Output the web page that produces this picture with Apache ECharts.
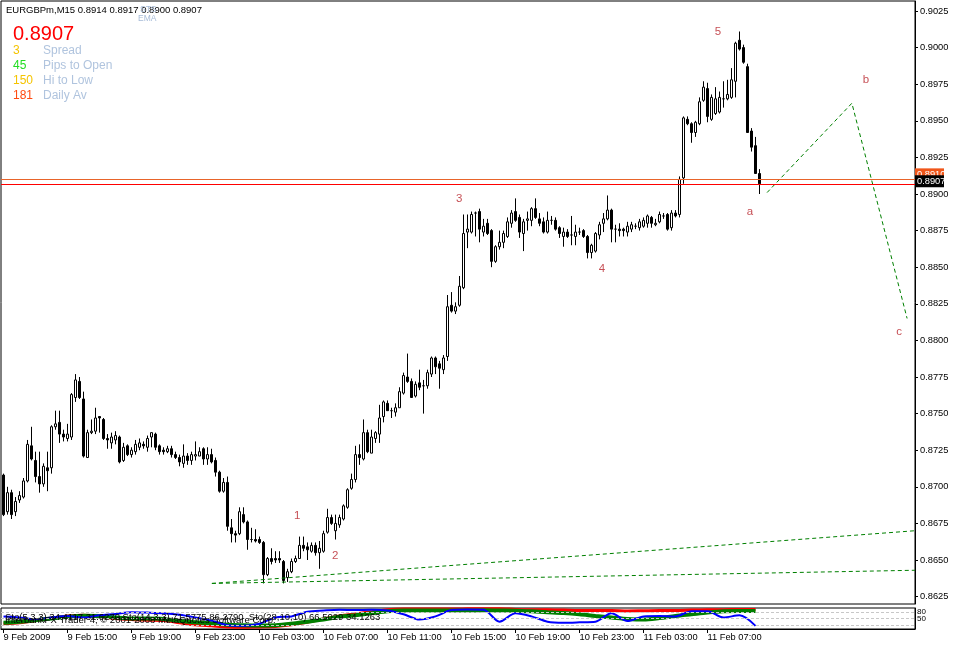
<!DOCTYPE html>
<html><head><meta charset="utf-8">
<script src="https://cdn.jsdelivr.net/npm/echarts@6/dist/echarts.min.js"></script>
<style>html,body{margin:0;padding:0;background:#fff}#c{width:953px;height:646px}</style>
</head><body><div id="c"></div>
<script>
// ---------- data ----------
const symbolName = 'EURGBPm,M15';
const opens = [
0.8708,0.8683,0.8696,0.8683,0.8691,0.8693,0.8704,0.8728,0.8718,0.8707,
0.8702,0.8713,0.8713,0.8741,0.8744,0.8736,0.8733,0.8734,0.8761,0.8772,
0.8760,0.8720,0.8737,0.8738,0.8748,0.8746,0.8733,0.8730,0.8732,0.8734,
0.8718,0.8728,0.8722,0.8724,0.8727,0.8729,0.8727,0.8734,0.8736,0.8728,
0.8725,0.8724,0.8726,0.8722,0.8720,0.8716,0.8721,0.8718,0.8721,0.8721,
0.8726,0.8719,0.8722,0.8718,0.8710,0.8697,0.8703,0.8672,0.8668,0.8668,
0.8681,0.8676,0.8664,0.8664,0.8664,0.8662,0.8640,0.8651,0.8651,0.8651,
0.8649,0.8638,0.8642,0.8649,0.8651,0.8660,0.8659,0.8656,0.8660,0.8655,
0.8656,0.8669,0.8679,0.8670,0.8674,0.8678,0.8686,0.8699,0.8705,0.8722,
0.8719,0.8737,0.8723,0.8733,0.8736,0.8748,0.8757,0.8752,0.8751,0.8754,
0.8764,0.8775,0.8772,0.8762,0.8771,0.8769,0.8769,0.8777,0.8788,0.8784,
0.8780,0.8789,0.8824,0.8820,0.8824,0.8836,0.8874,0.8874,0.8887,0.8888,
0.8874,0.8880,0.8875,0.8854,0.8864,0.8867,0.8871,0.8880,0.8888,0.8884,
0.8873,0.8882,0.8882,0.8890,0.8883,0.8881,0.8874,0.8882,0.8882,0.8877,
0.8871,0.8874,0.8872,0.8871,0.8874,0.8875,0.8871,0.8860,0.8861,0.8872,
0.8880,0.8883,0.8889,0.8876,0.8876,0.8876,0.8874,0.8876,0.8878,0.8877,
0.8878,0.8880,0.8884,0.8879,0.8881,0.8885,0.8886,0.8877,0.8887,0.8886,
0.8911,0.8951,0.8948,0.8942,0.8948,0.8964,0.8972,0.8951,0.8955,0.8956,
0.8965,0.8965,0.8966,0.8977,0.9005,0.9000,0.8987,0.8943,0.8933,0.8914];
const closes = [
0.8681,0.8696,0.8681,0.8690,0.8694,0.8704,0.8729,0.8719,0.8707,0.8702,
0.8714,0.8711,0.8741,0.8743,0.8736,0.8734,0.8736,0.8763,0.8773,0.8761,
0.8721,0.8737,0.8738,0.8747,0.8747,0.8733,0.8732,0.8734,0.8735,0.8717,
0.8727,0.8722,0.8725,0.8729,0.8730,0.8728,0.8733,0.8737,0.8727,0.8724,
0.8724,0.8726,0.8722,0.8720,0.8717,0.8721,0.8718,0.8722,0.8722,0.8724,
0.8719,0.8722,0.8717,0.8710,0.8697,0.8703,0.8673,0.8668,0.8667,0.8683,
0.8676,0.8664,0.8664,0.8663,0.8662,0.8640,0.8651,0.8649,0.8650,0.8650,
0.8636,0.8642,0.8649,0.8651,0.8660,0.8658,0.8657,0.8660,0.8655,0.8658,
0.8668,0.8679,0.8675,0.8675,0.8679,0.8687,0.8698,0.8705,0.8722,0.8720,
0.8737,0.8724,0.8734,0.8737,0.8747,0.8758,0.8752,0.8752,0.8754,0.8765,
0.8776,0.8772,0.8761,0.8770,0.8768,0.8769,0.8778,0.8788,0.8782,0.8781,
0.8788,0.8823,0.8820,0.8823,0.8837,0.8873,0.8876,0.8886,0.8887,0.8876,
0.8878,0.8873,0.8854,0.8864,0.8867,0.8873,0.8881,0.8887,0.8882,0.8874,
0.8881,0.8883,0.8890,0.8884,0.8880,0.8874,0.8882,0.8882,0.8876,0.8873,
0.8874,0.8871,0.8872,0.8874,0.8874,0.8871,0.8860,0.8865,0.8873,0.8879,
0.8883,0.8889,0.8876,0.8876,0.8875,0.8875,0.8878,0.8879,0.8878,0.8881,
0.8882,0.8885,0.8880,0.8880,0.8886,0.8885,0.8876,0.8887,0.8885,0.8910,
0.8952,0.8948,0.8942,0.8949,0.8963,0.8973,0.8953,0.8966,0.8965,0.8966,
0.8965,0.8968,0.8978,0.9003,0.8999,0.8990,0.8942,0.8932,0.8914,0.8907];
const highs = [
0.8709,0.8700,0.8698,0.8693,0.8697,0.8706,0.8732,0.8741,0.8724,0.8724,
0.8716,0.8724,0.8742,0.8752,0.8752,0.8739,0.8743,0.8764,0.8777,0.8775,
0.8765,0.8739,0.8746,0.8754,0.8748,0.8747,0.8736,0.8737,0.8738,0.8735,
0.8730,0.8729,0.8727,0.8732,0.8733,0.8731,0.8735,0.8737,0.8737,0.8729,
0.8727,0.8728,0.8728,0.8724,0.8722,0.8729,0.8723,0.8724,0.8731,0.8727,
0.8727,0.8727,0.8726,0.8720,0.8711,0.8706,0.8707,0.8678,0.8670,0.8686,
0.8686,0.8677,0.8672,0.8671,0.8666,0.8663,0.8652,0.8658,0.8656,0.8656,
0.8650,0.8644,0.8651,0.8653,0.8666,0.8666,0.8662,0.8662,0.8662,0.8663,
0.8670,0.8685,0.8681,0.8681,0.8681,0.8688,0.8699,0.8709,0.8728,0.8729,
0.8746,0.8739,0.8739,0.8738,0.8756,0.8759,0.8759,0.8754,0.8757,0.8768,
0.8778,0.8791,0.8774,0.8772,0.8780,0.8773,0.8780,0.8789,0.8789,0.8786,
0.8790,0.8831,0.8833,0.8826,0.8844,0.8886,0.8886,0.8888,0.8888,0.8890,
0.8883,0.8883,0.8876,0.8865,0.8875,0.8875,0.8884,0.8889,0.8897,0.8886,
0.8883,0.8888,0.8891,0.8897,0.8887,0.8884,0.8888,0.8885,0.8884,0.8878,
0.8877,0.8876,0.8885,0.8879,0.8877,0.8876,0.8872,0.8866,0.8874,0.8881,
0.8887,0.8899,0.8890,0.8879,0.8880,0.8877,0.8881,0.8881,0.8880,0.8883,
0.8884,0.8886,0.8885,0.8883,0.8888,0.8887,0.8887,0.8889,0.8889,0.8912,
0.8953,0.8953,0.8949,0.8950,0.8966,0.8977,0.8976,0.8968,0.8973,0.8970,
0.8977,0.8978,0.8986,0.9004,0.9011,0.9002,0.8989,0.8945,0.8939,0.8917];
const lows = [
0.8680,0.8681,0.8678,0.8680,0.8689,0.8692,0.8703,0.8718,0.8703,0.8696,
0.8700,0.8697,0.8709,0.8739,0.8730,0.8731,0.8731,0.8732,0.8758,0.8760,
0.8720,0.8720,0.8736,0.8736,0.8737,0.8732,0.8726,0.8726,0.8729,0.8716,
0.8717,0.8721,0.8720,0.8722,0.8725,0.8726,0.8724,0.8727,0.8725,0.8722,
0.8722,0.8723,0.8720,0.8719,0.8714,0.8713,0.8715,0.8715,0.8718,0.8721,
0.8715,0.8715,0.8716,0.8707,0.8696,0.8696,0.8670,0.8662,0.8662,0.8667,
0.8675,0.8657,0.8662,0.8662,0.8661,0.8634,0.8639,0.8647,0.8648,0.8648,
0.8634,0.8635,0.8641,0.8648,0.8651,0.8656,0.8650,0.8655,0.8653,0.8644,
0.8655,0.8668,0.8674,0.8664,0.8672,0.8677,0.8685,0.8698,0.8703,0.8715,
0.8718,0.8723,0.8723,0.8730,0.8730,0.8744,0.8752,0.8747,0.8748,0.8754,
0.8763,0.8771,0.8761,0.8761,0.8766,0.8750,0.8767,0.8775,0.8777,0.8767,
0.8777,0.8786,0.8819,0.8818,0.8823,0.8835,0.8863,0.8873,0.8871,0.8867,
0.8871,0.8872,0.8850,0.8853,0.8862,0.8863,0.8870,0.8877,0.8881,0.8870,
0.8861,0.8875,0.8878,0.8883,0.8878,0.8873,0.8873,0.8879,0.8875,0.8870,
0.8864,0.8870,0.8865,0.8865,0.8872,0.8870,0.8856,0.8856,0.8860,0.8869,
0.8874,0.8882,0.8867,0.8867,0.8871,0.8871,0.8871,0.8874,0.8876,0.8875,
0.8877,0.8877,0.8877,0.8878,0.8880,0.8883,0.8875,0.8875,0.8884,0.8884,
0.8907,0.8947,0.8935,0.8939,0.8947,0.8963,0.8949,0.8950,0.8954,0.8955,
0.8959,0.8964,0.8965,0.8966,0.8998,0.8989,0.8942,0.8929,0.8914,0.8900];

const timeLabels = ['9 Feb 2009','9 Feb 15:00','9 Feb 19:00','9 Feb 23:00','10 Feb 03:00','10 Feb 07:00',
  '10 Feb 11:00','10 Feb 15:00','10 Feb 19:00','10 Feb 23:00','11 Feb 03:00','11 Feb 07:00'];
const timeLabelBars = [0,16,32,48,64,80,96,112,128,144,160,176];
const priceTicks = [0.8625,0.8650,0.8675,0.8700,0.8725,0.8750,0.8775,0.8800,0.8825,0.8850,
  0.8875,0.8900,0.8925,0.8950,0.8975,0.9000,0.9025];

const askLinePrice = 0.8910;
const bidLinePrice = 0.8907;

const waveNames  = ['1','2','3','4','5','a','b','c'];
const waveBars   = [73.4,82.9,113.9,149.6,178.6,186.6,215.6,223.9];
const wavePrices = [0.8680,0.8653,0.8897,0.8849,0.9011,0.8888,0.8978,0.8806];

const abcBars   = [190.9,212.1,225.9];
const abcPrices = [0.8901,0.8962,0.8815];
const trendBars = [52.1,227.875];
const trendUpperPrices = [0.8634,0.8670];
const trendLowerPrices = [0.8634,0.8643];

const oscBars = [0,4,8,12,16,20,24,28,32,36,40,44,48,52,56,60,64,68,72,76,80,84,88,92,
  96,100,104,108,112,116,120,124,128,132,136,140,144,148,152,156,160,164,168,172,176,180,184,188];
const stochBlue  = [60,55,47,55,62,55,65,72,80,78,75,68,55,40,18,15,25,55,60,82,88,92,90,92,
  88,70,45,60,90,93,92,35,75,60,35,30,32,35,75,38,60,62,60,85,85,55,65,15];
const stochGreen = [30,35,42,50,58,63,62,55,50,50,48,38,32,28,20,18,17,18,25,35,45,58,66,75,
  85,88,88,88,88,88,89,88,87,84,80,76,70,62,55,48,45,52,62,70,78,84,86,86];
const stochRed   = [25,30,40,52,62,66,60,50,45,42,40,30,20,15,10,8,10,12,20,32,48,62,72,82,
  92,95,95,95,95,96,97,97,93,92,92,90,88,88,88,86,87,88,88,90,92,92,93,93];
const oscLevels = [20,50,80];
const oscTickLabels = [20,50,80,100];

const infoValues = ['3','45','150','181'];
const infoLabels = ['Spread','Pips to Open','Hi to Low','Daily Av'];
const indicatorText = 'Sto(5,3,3) 34.4117 31.6270 Sto(14,3,3) 71.5775 86.2790  Sto(28,10,10) 66.5029 34.1263';
const copyrightText = 'InterbankFX Trader 4, \u00a9 2001-2008 MetaQuotes Software Corp.';

// ---------- chart ----------
const FONT = '"Liberation Sans", Arial, sans-serif';
const last = opens.length - 1;
const candleData = opens.map((o, i) => [i, o, closes[i], lows[i], highs[i]]);
const XMIN = -0.625, XMAX = 227.875;
const dashed = {color: '#008000', width: 1, type: [4, 3]};

const chart = echarts.init(document.getElementById('c'), null, {renderer: 'canvas'});
const option = {
  animation: false,
  backgroundColor: '#ffffff',
  grid: [
    {left: 1, top: 1, width: 914, height: 603, show: true, borderColor: '#000', borderWidth: 1, backgroundColor: '#fff'},
    {left: 1, top: 608, width: 914, height: 21, show: true, borderColor: '#000', borderWidth: 1, backgroundColor: '#fff'}
  ],
  xAxis: [
    {type: 'value', gridIndex: 0, min: XMIN, max: XMAX, show: false, axisLine: {onZero: false}},
    {type: 'value', gridIndex: 1, min: XMIN, max: XMAX, position: 'bottom',
     axisLine: {show: true, onZero: false, lineStyle: {color: '#000'}},
     axisTick: {show: true, inside: false, length: 4, customValues: timeLabelBars, lineStyle: {color: '#000'}},
     splitLine: {show: false},
     axisLabel: {customValues: timeLabelBars, align: 'left', margin: 4, color: '#000',
       fontSize: 9.3, fontFamily: FONT,
       formatter: v => { const k = timeLabelBars.indexOf(Math.round(v)); return k >= 0 ? timeLabels[k] : ''; }}}
  ],
  yAxis: [
    {type: 'value', gridIndex: 0, position: 'right', min: 0.861995, max: 0.903183,
     axisLine: {show: true, onZero: false, lineStyle: {color: '#000'}},
     axisTick: {show: true, inside: false, length: 3, customValues: priceTicks, lineStyle: {color: '#000'}},
     splitLine: {show: false},
     axisLabel: {customValues: priceTicks, margin: 5, color: '#000', fontSize: 9.3, fontFamily: FONT,
       formatter: v => v.toFixed(4)}},
    {type: 'value', gridIndex: 1, position: 'right', min: 0, max: 100,
     axisLine: {show: true, onZero: false, lineStyle: {color: '#000'}},
     axisTick: {show: false},
     splitLine: {show: false},
     axisLabel: {customValues: oscTickLabels, margin: 2, color: '#000', fontSize: 8, fontFamily: FONT, hideOverlap: false}}
  ],
  series: [
    {type: 'line', xAxisIndex: 0, yAxisIndex: 0, symbol: 'none', silent: true,
     data: trendBars.map((b, k) => [b, trendUpperPrices[k]]), lineStyle: dashed,
     markLine: {silent: true, symbol: 'none', animation: false, precision: 5, label: {show: false},
       data: [
         {yAxis: askLinePrice, lineStyle: {color: '#e8642a', width: 1, type: 'solid'}},
         {yAxis: bidLinePrice, lineStyle: {color: '#ff0000', width: 1, type: 'solid'}}
       ]}},
    {type: 'line', xAxisIndex: 0, yAxisIndex: 0, symbol: 'none', silent: true,
     data: trendBars.map((b, k) => [b, trendLowerPrices[k]]), lineStyle: dashed},
    {type: 'line', xAxisIndex: 0, yAxisIndex: 0, symbol: 'none', silent: true,
     data: abcBars.map((b, k) => [b, abcPrices[k]]), lineStyle: dashed},
    {type: 'candlestick', xAxisIndex: 0, yAxisIndex: 0, data: candleData, barWidth: 3,
     itemStyle: {color: '#ffffff', color0: '#000000', borderColor: '#000000', borderColor0: '#000000',
       borderColorDoji: '#000000', borderWidth: 1}},
    {type: 'scatter', xAxisIndex: 0, yAxisIndex: 0, symbolSize: 0, silent: true,
     itemStyle: {color: 'transparent'},
     data: waveNames.map((n, k) => ({name: n, value: [waveBars[k], wavePrices[k]]})),
     label: {show: true, position: 'inside', formatter: p => p.name, color: '#b8232b',
       fontSize: 11.5, fontFamily: FONT}},
    {type: 'line', xAxisIndex: 1, yAxisIndex: 1, symbol: 'none', silent: true, smooth: 0.3,
     data: oscBars.map((b, k) => [b, stochRed[k]]),
     lineStyle: {color: '#ff0000', width: 3},
     markLine: {silent: true, symbol: 'none', label: {show: false},
       lineStyle: {color: '#c8c8c8', width: 1, type: [3, 2]},
       data: oscLevels.map(v => ({yAxis: v}))}},
    {type: 'line', xAxisIndex: 1, yAxisIndex: 1, symbol: 'none', silent: true, smooth: 0.3,
     data: oscBars.map((b, k) => [b, stochGreen[k]]),
     lineStyle: {color: '#008000', width: 4}},
    {type: 'line', xAxisIndex: 1, yAxisIndex: 1, symbol: 'none', silent: true, smooth: 0.3,
     data: oscBars.map((b, k) => [b, stochBlue[k]]),
     lineStyle: {color: '#0000ff', width: 2}}
  ]
};
chart.setOption(option);

const yAsk = chart.convertToPixel({yAxisIndex: 0}, askLinePrice);
const yBid = chart.convertToPixel({yAxisIndex: 0}, bidLinePrice);
const infoColors = ['#f5c400', '#22dd22', '#f5c400', '#ff4a10'];
const infoYs = [50.7, 65.7, 80.3, 95.3];
const g = [
  {type: 'text', x: 6, y: 10, style: {text: symbolName + ' ' + [opens[last], highs[last], lows[last], closes[last]].map(v => v.toFixed(4)).join(' '),
    font: '9.5px ' + FONT, fill: '#000', verticalAlign: 'middle'}},
  {type: 'text', x: 140, y: 9.5, style: {text: 'STS', font: '8.5px ' + FONT, fill: '#a6bbd8', verticalAlign: 'middle'}},
  {type: 'text', x: 138, y: 18.5, style: {text: 'EMA', font: '8.5px ' + FONT, fill: '#a6bbd8', verticalAlign: 'middle'}},
  {type: 'text', x: 13, y: 34.5, style: {text: closes[last].toFixed(4), font: '20px ' + FONT, fill: '#ff0000', verticalAlign: 'middle'}},
  {type: 'text', x: 5, y: 617.5, z: 50, style: {text: indicatorText, font: '9.5px ' + FONT, fill: '#000', verticalAlign: 'middle'}},
  {type: 'text', x: 5, y: 620.5, z: 50, style: {text: copyrightText, font: '9.5px ' + FONT, fill: '#000', verticalAlign: 'middle'}},
  {type: 'rect', z: 60, shape: {x: 915, y: yAsk - 11, width: 29, height: 12}, style: {fill: '#f0561a'}},
  {type: 'text', z: 61, x: 917, y: yAsk - 5, style: {text: askLinePrice.toFixed(4), font: '9.3px ' + FONT, fill: '#fff', verticalAlign: 'middle'}},
  {type: 'rect', z: 62, shape: {x: 915, y: yBid - 8.5, width: 29, height: 12}, style: {fill: '#000'}},
  {type: 'text', z: 63, x: 917, y: yBid - 2.5, style: {text: bidLinePrice.toFixed(4), font: '9.3px ' + FONT, fill: '#fff', verticalAlign: 'middle'}}
];
infoValues.forEach((v, k) => {
  g.push({type: 'text', x: 13, y: infoYs[k], style: {text: v, font: '12px ' + FONT, fill: infoColors[k], verticalAlign: 'middle'}});
  g.push({type: 'text', x: 43, y: infoYs[k], style: {text: infoLabels[k], font: '12px ' + FONT, fill: '#b0c4de', verticalAlign: 'middle'}});
});
chart.setOption({graphic: g});
</script>
</body></html>
